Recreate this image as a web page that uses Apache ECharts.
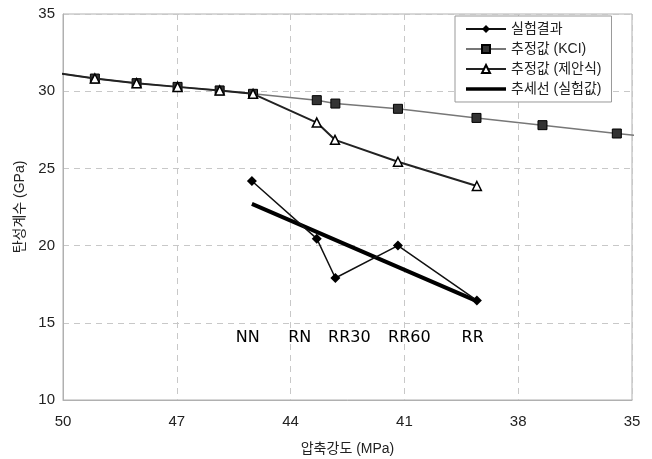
<!DOCTYPE html>
<html>
<head>
<meta charset="utf-8">
<script src="https://cdn.jsdelivr.net/npm/echarts@6/dist/echarts.min.js"></script>
<style>
  html, body { margin: 0; padding: 0; background: #fff; }
  #chart { width: 652px; height: 459px; }
</style>
</head>
<body>
<div id="chart"></div>
<script>
// values
var xTicks = [50, 47, 44, 41, 38, 35];

var expData = [[45.02, 24.18], [43.31, 20.45], [42.82, 17.9], [41.17, 20.0], [39.09, 16.45]];

// first and last entries are the line's ends (no symbol)
var kciData = [[50.1, 31.15], [49.16, 30.82], [48.06, 30.52], [46.98, 30.28], [45.87, 30.05], [44.99, 29.83],
	[43.31, 29.42], [42.82, 29.2], [41.17, 28.86], [39.1, 28.27], [37.36, 27.8], [35.4, 27.26], [34.85, 27.12]];

var propData = [[50.1, 31.15], [49.16, 30.82], [48.06, 30.52], [46.98, 30.28], [45.87, 30.05], [44.99, 29.83],
	[43.31, 27.97], [42.83, 26.85], [41.17, 25.43], [39.09, 23.86]];

var trendData = [[45.02, 22.7], [39.09, 16.4]];

var specNames = ['NN', 'RN', 'RR30', 'RR60', 'RR'];
var specX = [45.13, 43.76, 42.45, 40.87, 39.2];
var specY = 14.0;

var seriesNames = ['실험결과', '추정값 (KCI)', '추정값 (제안식)', '추세선 (실험값)'];

var FONT = "'Liberation Sans', 'Noto Sans CJK KR', sans-serif";

function withEnds(arr) {
	return arr.map(function (p, i) {
		if (i === 0 || (i === arr.length - 1 && p[0] < 35)) {
			return {value: p, symbol: 'none'};
		}
		return {value: p};
	});
}

var myChart = echarts.init(document.getElementById('chart'));

var legendData = seriesNames.map(function (n, i) {
	if (i === 3) {
		// plain thick bar, no marker
		return {name: n, icon: 'path://M0,0L40,0L40,3.5L0,3.5Z'};
	}
	return {name: n};
});

var option = {
	animation: false,
	textStyle: {fontFamily: FONT},
	grid: {
		left: 63, right: 20, top: 14, bottom: 59,
		outerBoundsMode: 'none',
		show: true, borderColor: '#b0b0b0', borderWidth: 1
	},
	legend: {
		data: legendData,
		orient: 'vertical',
		left: 455, top: 16,
		padding: [6, 10, 6, 10],
		itemGap: 6,
		itemWidth: 40,
		itemHeight: 10,
		symbolKeepAspect: true,
		backgroundColor: '#fff',
		borderColor: '#999',
		borderWidth: 1,
		borderRadius: 0,
		textStyle: {fontSize: 14, color: '#222', fontFamily: FONT}
	},
	xAxis: {
		type: 'value',
		min: 35, max: 50, interval: 3,
		inverse: true,
		name: '압축강도 (MPa)',
		nameLocation: 'middle',
		nameGap: 42,
		nameTextStyle: {fontSize: 14, color: '#222'},
		axisLine: {show: true, lineStyle: {color: '#b0b0b0'}},
		axisTick: {show: false, customValues: xTicks},
		axisLabel: {customValues: xTicks, fontSize: 15, color: '#222', margin: 14},
		splitLine: {show: true, lineStyle: {color: '#c8c8c8', type: [6, 5]}}
	},
	yAxis: {
		type: 'value',
		min: 10, max: 35, interval: 5,
		name: '탄성계수 (GPa)',
		nameLocation: 'middle',
		nameGap: 33,
		nameTextStyle: {fontSize: 14, color: '#222'},
		axisLine: {show: true, lineStyle: {color: '#b0b0b0'}},
		axisTick: {show: false},
		axisLabel: {fontSize: 15, color: '#222', margin: 8},
		splitLine: {show: true, lineStyle: {color: '#c8c8c8', type: [6, 5]}}
	},
	series: [
		{
			name: seriesNames[1],
			type: 'line',
			clip: false,
			z: 2,
			data: withEnds(kciData),
			symbol: 'rect',
			symbolSize: 9,
			lineStyle: {color: '#777', width: 1.5},
			itemStyle: {color: '#333', borderColor: '#000', borderWidth: 1}
		},
		{
			name: seriesNames[2],
			type: 'line',
			clip: false,
			z: 3,
			data: withEnds(propData),
			symbol: 'triangle',
			symbolSize: 9,
			lineStyle: {color: '#222', width: 2},
			itemStyle: {color: '#fff', borderColor: '#000', borderWidth: 1.5}
		},
		{
			name: seriesNames[3],
			type: 'line',
			z: 4,
			data: trendData,
			symbol: 'none',
			lineStyle: {color: '#000', width: 4},
			itemStyle: {color: '#000'}
		},
		{
			name: seriesNames[0],
			type: 'line',
			z: 5,
			data: expData,
			symbol: 'diamond',
			symbolSize: 10,
			lineStyle: {color: '#111', width: 1.5},
			itemStyle: {color: '#000', borderColor: '#000', borderWidth: 0}
		},
		{
			name: 'labels',
			type: 'scatter',
			z: 6,
			symbolSize: 0,
			itemStyle: {color: '#000', opacity: 1},
			data: specNames.map(function (n, i) {
				return {name: n, value: [specX[i], specY]};
			}),
			label: {
				show: true,
				position: 'inside',
				formatter: '{b}',
				fontSize: 16,
				color: '#000',
				fontFamily: "'DejaVu Sans', sans-serif"
			}
		}
	]
};

myChart.setOption(option);
</script>
</body>
</html>
